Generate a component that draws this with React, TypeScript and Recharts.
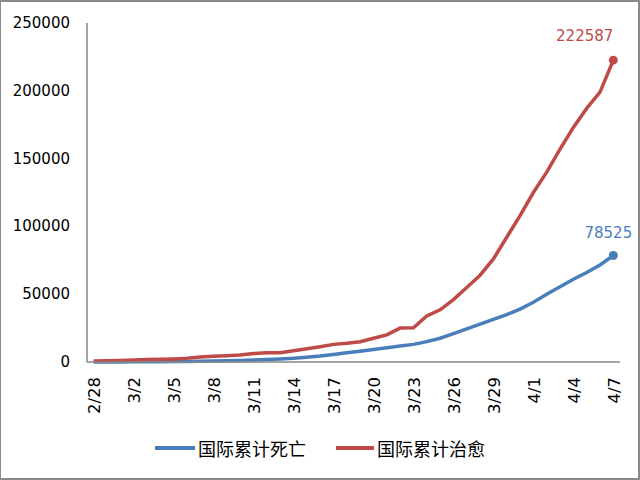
import React from 'react';
import { LineChart, Line, XAxis, YAxis, Legend, LabelList } from 'recharts';

const dates = [
  '2/28', '2/29', '3/1', '3/2', '3/3', '3/4', '3/5', '3/6', '3/7', '3/8',
  '3/9', '3/10', '3/11', '3/12', '3/13', '3/14', '3/15', '3/16', '3/17', '3/18',
  '3/19', '3/20', '3/21', '3/22', '3/23', '3/24', '3/25', '3/26', '3/27', '3/28',
  '3/29', '3/30', '3/31', '4/1', '4/2', '4/3', '4/4', '4/5', '4/6', '4/7',
];

const deaths = [
  60, 70, 90, 120, 170, 230, 300, 380, 480, 650,
  850, 1100, 1400, 1800, 2200, 2700, 3500, 4400, 5600, 6800,
  8000, 9200, 10500, 11800, 13000, 15000, 17500, 21000, 24500, 28000,
  31500, 35000, 39000, 44000, 50000, 55500, 61000, 66000, 71500, 78525,
];

const recovered = [
  800, 900, 1100, 1500, 1800, 2000, 2300, 2800, 3600, 4200,
  4600, 5200, 6200, 6800, 6800, 8300, 9800, 11300, 13000, 13800,
  15000, 17500, 20000, 25000, 25300, 34000, 38500, 46000, 55000, 64000,
  76000, 92000, 108000, 125000, 140000, 157000, 173000, 187000, 199000, 222587,
];

const yTicks = [0, 50000, 100000, 150000, 200000, 250000];

const seriesNames = ['国际累计死亡', '国际累计治愈'];
const BLUE = '#4A7EBB';
const RED = '#BE4B48';
const AXIS = '#878787';

const data = dates.map((d, i) => ({ date: d, deaths: deaths[i], recovered: recovered[i] }));
const LAST = dates.length - 1;

const XTick = (props: any) => {
  const { x, y, payload } = props;
  return (
    <text
      x={x + 1}
      y={y}
      transform={`rotate(-90, ${x + 1}, ${y})`}
      textAnchor="end"
      dominantBaseline="central"
      fontFamily="DejaVu Sans"
      fontSize={16.5}
      fill="#000"
    >
      {payload.value}
    </text>
  );
};

const YTick = (props: any) => {
  const { x, y, payload } = props;
  return (
    <text x={x} y={y} textAnchor="end" dominantBaseline="central" fontFamily="DejaVu Sans" fontSize={15} fill="#000">
      {payload.value}
    </text>
  );
};

const makeDot = (color: string) => (props: any) => {
  const { cx, cy, index } = props;
  if (index !== LAST) return <g key={`d${index}`} />;
  return <circle key={`d${index}`} cx={cx} cy={cy} r={4.5} fill={color} stroke="none" />;
};

const redLabel = (props: any) => {
  const { x, y, value, index } = props;
  if (index !== LAST) return null;
  return (
    <text key="rl" x={x} y={y - 19} textAnchor="end" fontFamily="DejaVu Sans" fontSize={15} fill={RED}>
      {value}
    </text>
  );
};

const blueLabel = (props: any) => {
  const { x, y, value, index } = props;
  if (index !== LAST) return null;
  return (
    <text key="bl" x={x - 5} y={y - 18} textAnchor="middle" fontFamily="DejaVu Sans" fontSize={15} fill={BLUE}>
      {value}
    </text>
  );
};

const LegendContent = () => (
  <div style={{ display: 'flex', justifyContent: 'center', alignItems: 'center', width: 640 }}>
    <div style={{ width: 40, height: 4, background: BLUE, marginRight: 3 }} />
    <span style={{ fontFamily: 'Noto Sans CJK SC', fontSize: 18, lineHeight: '24px', color: '#000' }}>{seriesNames[0]}</span>
    <div style={{ width: 38, height: 4, background: RED, marginLeft: 30, marginRight: 3 }} />
    <span style={{ fontFamily: 'Noto Sans CJK SC', fontSize: 18, lineHeight: '24px', color: '#000' }}>{seriesNames[1]}</span>
  </div>
);

export default function App() {
  return (
    <div
      style={{
        position: 'absolute',
        left: 0,
        top: 0,
        width: 640,
        height: 480,
        background: '#fff',
        boxSizing: 'border-box',
        borderTop: '2px solid #8a8a8a',
        borderLeft: '1px solid #8a8a8a',
        borderRight: '2px solid #8a8a8a',
        borderBottom: '2px solid #8a8a8a',
      }}
    >
      <div style={{ position: 'absolute', left: -1, top: -2 }}>
        <LineChart width={640} height={480} data={data} margin={{ top: 23, right: 20, bottom: 0, left: 0 }}>
          <XAxis
            dataKey="date"
            interval={2}
            padding={{ left: 6.67, right: 6.67 }}
            height={118}
            axisLine={{ stroke: AXIS, strokeWidth: 1.5 }}
            tickLine={false}
            tickSize={0}
            tickMargin={15}
            tick={<XTick />}
          />
          <YAxis
            width={87}
            domain={[0, 250000]}
            ticks={yTicks}
            interval={0}
            axisLine={{ stroke: AXIS, strokeWidth: 1.5 }}
            tickLine={false}
            tickSize={0}
            tickMargin={17}
            tick={<YTick />}
          />
          <Legend
            layout="vertical"
            align="center"
            verticalAlign="middle"
            wrapperStyle={{ top: 436, left: 0, width: 640, height: 24 }}
            content={<LegendContent />}
          />
          <Line
            type="linear"
            dataKey="deaths"
            name={seriesNames[0]}
            stroke={BLUE}
            strokeWidth={3.5}
            dot={makeDot(BLUE)}
            activeDot={false}
            isAnimationActive={false}
          >
            <LabelList dataKey="deaths" content={blueLabel} />
          </Line>
          <Line
            type="linear"
            dataKey="recovered"
            name={seriesNames[1]}
            stroke={RED}
            strokeWidth={3.5}
            dot={makeDot(RED)}
            activeDot={false}
            isAnimationActive={false}
          >
            <LabelList dataKey="recovered" content={redLabel} />
          </Line>
        </LineChart>
      </div>
    </div>
  );
}
